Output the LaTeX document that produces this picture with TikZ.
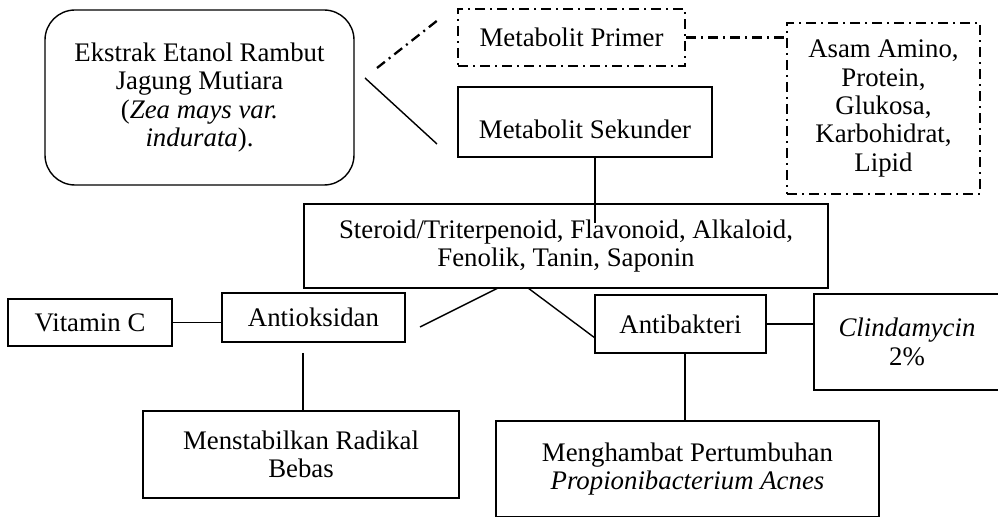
\documentclass[tikz,border=0pt]{standalone}
\usepackage{fontspec}
\setmainfont{Liberation Serif}
\begin{document}
\begin{tikzpicture}[x=0.5pt, y=-0.5pt,
		box/.style={draw, line width=0.7pt, align=center, inner sep=0pt, font=\fontsize{13.4}{14.2}\selectfont},
		dashbox/.style={box, line width=1.15pt, dash pattern=on 5pt off 2.5pt on 1pt off 2.5pt},
		link/.style={line width=0.7pt},
		dashlink/.style={line width=1.15pt, dash pattern=on 5pt off 2.5pt on 1pt off 2.5pt}]
			\useasboundingbox (0,0) rectangle (998,517);
			
			%top row
			\node[box, rounded corners=15pt, minimum width=154.5pt, minimum height=87.5pt] (ekstrak) at (199.5, 97.5)
				{Ekstrak Etanol Rambut\\Jagung Mutiara\\(\textit{Zea mays var.}\\\textit{indurata}).};
			\node[dashbox, minimum width=113.5pt, minimum height=28.5pt] (primer) at (571.5, 37.5){Metabolit Primer};
			\node[box, minimum width=127pt, minimum height=35pt, text height=17pt] (sekunder) at (585, 122){Metabolit Sekunder};
			\node[dashbox, minimum width=96.5pt, minimum height=85.5pt] (asam) at (883.5, 108.5)
				{Asam Amino,\\Protein,\\Glukosa,\\Karbohidrat,\\Lipid};
			
			%compounds
			\node[box, minimum width=262pt, minimum height=42pt] (senyawa) at (566, 246)
				{Steroid/Triterpenoid, Flavonoid, Alkaloid,\\Fenolik, Tanin, Saponin};
			
			%activities
			\node[box, minimum width=82pt, minimum height=23.5pt] (vitc) at (90, 322.5){Vitamin C};
			\node[box, minimum width=91.5pt, minimum height=24.5pt] (antioks) at (313.5, 317.5){Antioksidan};
			\node[box, minimum width=85.5pt, minimum height=29pt] (antibak) at (680.5, 324){Antibakteri};
			\node[box, minimum width=93pt, minimum height=48pt] (clinda) at (907, 342){\textit{Clindamycin}\\2\%};
			\node[box, minimum width=158pt, minimum height=43.5pt] (menstab) at (301, 454.5){Menstabilkan Radikal\\Bebas};
			\node[box, minimum width=191.5pt, minimum height=48pt] (hambat) at (687.5, 469)
				{Menghambat Pertumbuhan\\\textit{Propionibacterium Acnes}};
			
			%free ends
			\coordinate (d1) at (377, 68);
			\coordinate (d2) at (438, 20);
			\coordinate (e1) at (365, 78);
			\coordinate (e2) at (437, 144);
			\coordinate (s1) at (595, 223);
			\coordinate (k1) at (498, 288);
			\coordinate (k2) at (420, 327);
			\coordinate (k3) at (528, 288);
			\coordinate (k4) at (595, 338);
			\coordinate (a1) at (303, 353);
			\coordinate (b1) at (685, 353);
			
			%connectors
			\draw[dashlink] (d1) -- (d2);
			\draw[dashlink] (primer.east) -- (primer.east -| asam.west);
			\draw[link] (e1) -- (e2);
			\draw[link] (s1 |- sekunder.south) -- (s1);
			\draw[link] (k1) -- (k2);
			\draw[link] (k3) -- (k4);
			\draw[link] (vitc.east) -- (vitc.east -| antioks.west);
			\draw[link] (antibak.east) -- (antibak.east -| clinda.west);
			\draw[link] (a1) -- (a1 |- menstab.north);
			\draw[link] (b1) -- (b1 |- hambat.north);
		\end{tikzpicture}
\end{document}
